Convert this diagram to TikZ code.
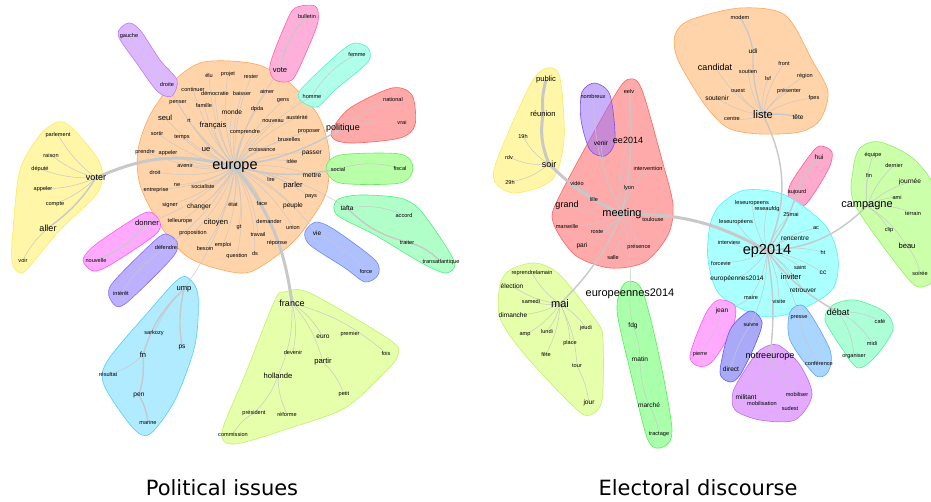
\documentclass[tikz,border=0pt]{standalone}
\usepackage{fontspec}
\setmainfont{Liberation Sans}
\newfontfamily\titlefont{DejaVu Sans}

\pgfdeclarelayer{hulls}
\pgfdeclarelayer{links}
\pgfsetlayers{hulls,links,main}

\definecolor{peachF}{HTML}{FFD4AA}\definecolor{peachL}{HTML}{FFA557}
\definecolor{lilacF}{HTML}{DDB8FF}\definecolor{lilacL}{HTML}{B87AF5}
\definecolor{rosyF}{HTML}{FFB0DA}\definecolor{rosyL}{HTML}{FF5FAF}
\definecolor{mintF}{HTML}{B0FFEA}\definecolor{mintL}{HTML}{55F0CB}
\definecolor{salmonF}{HTML}{FFAAAA}\definecolor{salmonL}{HTML}{FF6161}
\definecolor{limeF}{HTML}{B8FFA8}\definecolor{limeL}{HTML}{5FF05A}
\definecolor{seaF}{HTML}{B0FFC8}\definecolor{seaL}{HTML}{4FEF85}
\definecolor{skyF}{HTML}{AEC0FF}\definecolor{skyL}{HTML}{6A8AF6}
\definecolor{lemonF}{HTML}{FFF6A8}\definecolor{lemonL}{HTML}{FFE860}
\definecolor{magF}{HTML}{FFAAFF}\definecolor{magL}{HTML}{FF55FF}
\definecolor{violF}{HTML}{BCB0FF}\definecolor{violL}{HTML}{8B6CF5}
\definecolor{aquaF}{HTML}{B0EBFF}\definecolor{aquaL}{HTML}{55CCFF}
\definecolor{pistF}{HTML}{E6FFAA}\definecolor{pistL}{HTML}{C2F266}
\definecolor{venirF}{HTML}{9A70F5}\definecolor{venirL}{HTML}{7F50F0}
\definecolor{pinkF}{HTML}{FFAACC}\definecolor{pinkL}{HTML}{FF5A9E}
\definecolor{grassF}{HTML}{CCFFAA}\definecolor{grassL}{HTML}{90F060}
\definecolor{cyanF}{HTML}{AAFFFF}\definecolor{cyanL}{HTML}{55EEFF}
\definecolor{blueF}{HTML}{A9A9F8}\definecolor{blueL}{HTML}{5C5CF0}
\definecolor{orchidF}{HTML}{E3AAFF}\definecolor{orchidL}{HTML}{BF6BF0}
\definecolor{azureF}{HTML}{AAD5FF}\definecolor{azureL}{HTML}{5EA6F5}
\definecolor{jadeF}{HTML}{ADFFD8}\definecolor{jadeL}{HTML}{55F0A0}
\definecolor{greenF}{HTML}{AAFFAA}\definecolor{greenL}{HTML}{55F055}
\definecolor{wire}{HTML}{C8C8C8}

\tikzset{
	w/.style = {font = \fontsize{5.6}{6}\selectfont, inner sep = 0.3pt},
	wn/.style = {font = \fontsize{6.6}{7}\selectfont, inner sep = 0.3pt},
	wm/.style = {font = \fontsize{7.6}{8}\selectfont, inner sep = 0.3pt},
	wl/.style = {font = \fontsize{9}{10}\selectfont, inner sep = 0.3pt},
	wx/.style = {font = \fontsize{11}{12}\selectfont, inner sep = 0.3pt},
	wh/.style = {font = \fontsize{14.5}{16}\selectfont, inner sep = 0.3pt},
	hull/.style 2 args = {fill = #1, draw = #2, line width = 0.6pt},
	link/.style = {draw = wire, line width = 0.5pt},
	bond/.style = {draw = wire, line width = 1.4pt},
	trunk/.style = {draw = wire, line width = 3pt},
	heading/.style = {font = \titlefont\fontsize{21}{24}\selectfont}
}

\begin{document}
\begin{tikzpicture}[x = 1pt, y = -1pt]
	\useasboundingbox (0, 0) rectangle (931, 501);

	\foreach \n/\x/\y/\lbl in {elu/209/75/élu, projet/228/74/projet, rester/251/77/rester, continuer/193/89/continuer, democratie/215/93/démocratie, baisser/242/93/baisser, aimer/267/91/aimer, penser/178/103/penser, famille/204/105/famille, gens/283/101/gens, rt/189/121/rt, dpda/257/109/dpda, nouveau/273/121/nouveau, austerite/297/117/austérité, sortir/157/133/sortir, temps/182/137/temps, comprendre/245/132/comprendre, proposer/309/132/proposer, bruxelles/289/139/bruxelles, croissance/262/149/croissance, prendre/145/152/prendre, appeler/168/153/appeler, idee/292/161/idée, avenir/185/165/avenir, droit/155/172/droit, lire/271/179/lire, ne/177/185/ne, socialiste/203/186/socialiste, entreprise/156/190/entreprise, pays/311/197/pays, signer/170/205/signer, etat/233/204/état, face/262/203/face, telleurope/180/221/telleurope, demander/269/221/demander, union/293/227/union, gt/239/227/gt, proposition/193/233/proposition, travail/258/234/travail, besoin/205/248/besoin, emploi/223/245/emploi, reponse/277/243/réponse, question/237/256/question, ds/255/253/ds, gauche/129/36/gauche, droite/167/84/droite, bulletin/307/16/bulletin, femme/357/54/femme, homme/312/96/homme, national/393/99/national, vrai/402/122/vrai, social/338/169/social, fiscal/400/168/fiscal, accord/404/215/accord, traiter/407/242/traiter, transatlantique/441/262/transatlantique, force/366/271/force, parlement/58/135/parlement, raison/51/155/raison, depute/40/169/député, appelerb/43/189/appeler, compte/55/204/compte, voir/23/260/voir, nouvelle/96/260/nouvelle, defendre/166/247/défendre, interet/121/293/intérêt, sarkozy/154/333/sarkozy, resultat/108/374/résultat, marine/148/422/marine, devenir/293/352/devenir, premier/350/334/premier, fois/386/353/fois, petit/344/394/petit, president/254/413/président, reforme/287/414/réforme, commission/233/434/commission}
		\node (\n) at (\x, \y) [w] {\lbl};
	\foreach \n/\x/\y/\lbl in {monde/232/112/monde, passer/312/153/passer, mettre/312/175/mettre, changer/199/207/changer, peuple/293/206/peuple, tafta/347/208/tafta, vie/317/233/vie, ps/182/347/ps, pen/139/395/pen, euro/323/337/euro}
		\node (\n) at (\x, \y) [wn] {\lbl};
	\foreach \n/\x/\y/\lbl in {seul/165/118/seul, francais/213/126/français, ue/206/149/ue, parler/293/186/parler, citoyen/216/223/citoyen, vote/280/70/vote, donner/147/223/donner, ump/184/289/ump, fn/143/355/fn, partir/323/362/partir, hollande/278/376/hollande}
		\node (\n) at (\x, \y) [wm] {\lbl};
	\foreach \n/\x/\y/\lbl in {politique/343/128/politique, voter/96/178/voter, aller/48/228/aller, france/292/303/france}
		\node (\n) at (\x, \y) [wl] {\lbl};
	\node (europe) at (235, 167) [wh] {europe};

	\foreach \n/\x/\y/\lbl in {eelv/629/91/eelv, intervention/648/168/intervention, lyon/629/188/lyon, video/577/183/vidéo, lille/594/199/lille, toulouse/653/219/toulouse, marseille/567/226/marseille, roste/597/232/roste, presence/639/247/présence, salle/613/257/salle, nombreux/593/96/nombreux, 19h/523/136/19h, rdv/509/157/rdv, 29h/510/182/29h, reprendrelamain/532/273/reprendrelamain, samedi/531/301/samedi, amp/525/335/amp, lundi/547/331/lundi, jeudi/586/328/jeudi, place/570/343/place, fete/546/354/fête, tour/577/366/tour, tractage/659/434/tractage, modem/740/17/modem, soutien/748/71/soutien, front/784/63/front, lsf/768/78/lsf, region/805/76/région, ouest/738/91/ouest, presenter/789/91/présenter, fpes/814/98/fpes, centre/732/119/centre, aujourd/797/192/aujourd, equipe/873/155/équipe, dernier/894/165/dernier, fin/869/175/fin, ami/897/197/ami, terrain/913/213/terrain, clip/889/230/clip, soiree/920/273/soirée, leseuropeens/752/203/leseuropeens, reseaufdg/767/209/reseaufdg, 25mai/791/214/25mai, leseuropeensb/736/222/leseuropéens, ac/816/228/ac, interview/729/242/interview, ht/823/252/ht, forcevie/721/263/forcevie, saint/800/267/saint, maire/751/297/maire, visite/779/301/visite, pierre/700/354/pierre, suivre/751/324/suivre, mobilisation/762/403/mobilisation, sudest/790/408/sudest, mobiliser/797/394/mobiliser, presse/799/318/presse, conference/819/363/conférence, cafe/880/321/café, midi/872/343/midi, organiser/854/356/organiser}
		\node (\n) at (\x, \y) [w] {\lbl};
	\foreach \n/\x/\y/\lbl in {pari/582/246/pari, venir/601/143/venir, election/512/286/élection, dimanche/513/315/dimanche, jour/589/403/jour, fdg/633/326/fdg, matin/640/359/matin, marche/649/405/marché, udi/753/51/udi, soutenir/717/98/soutenir, tete/798/117/tête, hui/819/157/hui, journee/910/182/journée, rencentre/795/238/rencentre, cc/823/273/cc, europeennesb/737/279/européennes2014, retrouver/803/290/retrouver, jean/722/311/jean, direct/731/369/direct, militant/746/397/militant}
		\node (\n) at (\x, \y) [wn] {\lbl};
	\foreach \n/\x/\y/\lbl in {public/546/80/public, reunion/543/114/réunion, beau/907/246/beau, inviter/791/277/inviter}
		\node (\n) at (\x, \y) [wm] {\lbl};
	\foreach \n/\x/\y/\lbl in {ee2014/628/140/ee2014, grand/567/205/grand, soir/549/164/soir, candidat/715/67/candidat, notreeurope/770/357/notreeurope, debat/838/312/débat}
		\node (\n) at (\x, \y) [wl] {\lbl};
	\foreach \n/\x/\y/\lbl in {meeting/622/214/meeting, mai/560/304/mai, europeennes/630/294/europeennes2014, liste/763/115/liste, campagne/867/206/campagne}
		\node (\n) at (\x, \y) [wx] {\lbl};
	\node (ep2014) at (767, 251) [wh] {ep2014};

	\node (political) at (222, 488) [heading] {Political issues};
	\node (electoral) at (698, 488) [heading] {Electoral discourse};

	\begin{pgfonlayer}{hulls}
		\draw [hull = {peachF}{peachL}] plot [smooth cycle] coordinates {(200, 63) (230, 61) (262, 66) (292, 85) (318, 115) (329, 150) (327, 190) (312, 218) (290, 245) (250, 272) (215, 268) (185, 255) (160, 225) (140, 185) (138, 150) (150, 115) (175, 80)};
		\draw [hull = {lilacF}{lilacL}] plot [smooth cycle] coordinates {(118, 35) (128, 23) (140, 30) (160, 60) (177, 80) (172, 96) (158, 92) (138, 65)};
		\draw [hull = {rosyF}{rosyL}] plot [smooth cycle] coordinates {(295, 8) (315, 6) (318, 22) (305, 55) (292, 80) (275, 80) (270, 65) (285, 25)};
		\draw [hull = {mintF}{mintL}] plot [smooth cycle] coordinates {(355, 43) (368, 48) (368, 62) (335, 90) (317, 107) (300, 100) (302, 88) (340, 52)};
		\draw [hull = {salmonF}{salmonL}] plot [smooth cycle] coordinates {(332, 130) (350, 108) (392, 88) (412, 95) (415, 125) (400, 138) (355, 143) (335, 140)};
		\draw [hull = {limeF}{limeL}] plot [smooth cycle] coordinates {(326, 168) (340, 155) (400, 154) (413, 168) (400, 183) (340, 183)};
		\draw [hull = {seaF}{seaL}] plot [smooth cycle] coordinates {(337, 200) (360, 195) (400, 198) (420, 210) (445, 245) (455, 265) (445, 273) (420, 262) (375, 235) (337, 215)};
		\draw [hull = {skyF}{skyL}] plot [smooth cycle] coordinates {(305, 232) (316, 222) (335, 230) (375, 260) (378, 275) (365, 282) (345, 268) (310, 245)};
		\draw [hull = {lemonF}{lemonL}] plot [smooth cycle] coordinates {(58, 122) (72, 128) (100, 163) (98, 192) (60, 230) (28, 268) (20, 273) (12, 262) (13, 230) (20, 170) (40, 135)};
		\draw [hull = {magF}{magL}] plot [smooth cycle] coordinates {(150, 212) (160, 222) (155, 235) (110, 265) (93, 271) (83, 260) (95, 245) (135, 218)};
		\draw [hull = {violF}{violL}] plot [smooth cycle] coordinates {(165, 234) (177, 242) (172, 258) (125, 304) (112, 302) (111, 285) (150, 245)};
		\draw [hull = {aquaF}{aquaL}] plot [smooth cycle] coordinates {(187, 277) (198, 295) (195, 345) (175, 400) (150, 434) (133, 428) (104, 385) (108, 360) (150, 310) (175, 282)};
		\draw [hull = {pistF}{pistL}] plot [smooth cycle] coordinates {(285, 292) (310, 293) (390, 340) (398, 355) (385, 372) (345, 408) (290, 428) (235, 444) (222, 432) (245, 375) (275, 300)};

		\draw [hull = {lemonF}{lemonL}] plot [smooth cycle] coordinates {(547, 68) (560, 78) (564, 140) (552, 180) (515, 193) (495, 182) (497, 160) (530, 85)};
		\draw [hull = {salmonF}{salmonL}] plot [smooth cycle] coordinates {(630, 79) (642, 90) (662, 160) (673, 205) (668, 235) (645, 262) (610, 268) (575, 255) (553, 222) (560, 195) (615, 95)};
		\draw [hull = {venirF}{venirL}, fill opacity = 0.55] plot [smooth cycle] coordinates {(595, 83) (610, 95) (615, 140) (605, 156) (590, 150) (581, 120) (582, 92)};
		\draw [hull = {pistF}{pistL}] plot [smooth cycle] coordinates {(510, 270) (535, 263) (560, 275) (597, 322) (603, 340) (602, 400) (590, 415) (575, 408) (525, 355) (500, 318) (500, 285)};
		\draw [hull = {greenF}{greenL}] plot [smooth cycle] coordinates {(625, 283) (642, 290) (660, 360) (672, 430) (663, 447) (648, 440) (630, 370) (617, 310)};
		\draw [hull = {peachF}{peachL}] plot [smooth cycle] coordinates {(675, 35) (690, 20) (740, 8) (785, 15) (812, 60) (828, 92) (820, 120) (800, 132) (760, 134) (728, 128) (705, 105) (678, 60)};
		\draw [hull = {pinkF}{pinkL}] plot [smooth cycle] coordinates {(820, 146) (832, 152) (828, 170) (805, 205) (790, 200) (790, 185) (810, 155)};
		\draw [hull = {grassF}{grassL}] plot [smooth cycle] coordinates {(860, 148) (880, 142) (915, 160) (940, 200) (940, 270) (922, 287) (905, 275) (855, 205) (853, 170)};
		\draw [hull = {cyanF}{cyanL}] plot [smooth cycle] coordinates {(720, 205) (745, 190) (785, 195) (825, 225) (838, 258) (832, 290) (795, 312) (760, 316) (720, 295) (708, 260) (710, 225)};
		\draw [hull = {magF}{magL}] plot [smooth cycle] coordinates {(718, 300) (735, 306) (732, 330) (712, 362) (698, 366) (690, 355) (705, 315)};
		\draw [hull = {blueF}{blueL}] plot [smooth cycle] coordinates {(750, 311) (762, 322) (755, 345) (740, 375) (730, 382) (720, 372) (730, 330)};
		\draw [hull = {orchidF}{orchidL}] plot [smooth cycle] coordinates {(760, 350) (778, 345) (800, 365) (812, 395) (795, 420) (760, 420) (735, 410) (733, 392) (745, 370)};
		\draw [hull = {azureF}{azureL}] plot [smooth cycle] coordinates {(790, 312) (805, 307) (830, 350) (828, 372) (815, 375) (790, 340)};
		\draw [hull = {jadeF}{jadeL}] plot [smooth cycle] coordinates {(833, 305) (855, 300) (885, 312) (893, 330) (875, 357) (858, 368) (843, 350) (825, 320)};
	\end{pgfonlayer}

	\begin{pgfonlayer}{links}
		\foreach \n in {elu, projet, rester, continuer, democratie, baisser, aimer, penser, famille, gens, seul, rt, monde, dpda, nouveau, austerite, francais, sortir, temps, comprendre, proposer, bruxelles, croissance, ue, passer, prendre, appeler, idee, avenir, droit, mettre, lire, parler, ne, socialiste, entreprise, pays, signer, changer, etat, face, peuple, telleurope, citoyen, demander, union, gt, proposition, travail, besoin, emploi, reponse, question, ds, droite, vote, homme, tafta, vie, donner, defendre, ump}
			\draw [link] (europe.center) to [bend left = 12] (\n.center);
		\draw [bond] (europe.center) to [bend right = 10] (politique.center);
		\draw [bond] (europe.center) to [bend right = 12] (social.center);
		\draw [trunk] (europe.center) to [bend right = 20] (voter.center);
		\draw [trunk] (europe.center) to [bend left = 15] (france.center);
		\foreach \n in {parlement, raison, depute, appelerb, compte}
			\draw [link] (voter.center) to [bend left = 10] (\n.center);
		\draw [bond] (voter.center) to [bend left = 10] (aller.center);
		\draw [link] (aller.center) to [bend right = 10] (voir.center);
		\draw [link] (droite.center) to [bend left = 10] (gauche.center);
		\draw [bond] (vote.center) to [bend left = 15] (bulletin.center);
		\draw [link] (homme.center) to [bend left = 15] (femme.center);
		\draw [link] (politique.center) to [bend left = 10] (national.center);
		\draw [link] (politique.center) to [bend left = 10] (vrai.center);
		\draw [link] (social.center) to [bend left = 15] (fiscal.center);
		\draw [link] (tafta.center) to [bend left = 15] (accord.center);
		\draw [bond] (tafta.center) to [bend right = 15] (traiter.center);
		\draw [bond] (traiter.center) to [bend left = 15] (transatlantique.center);
		\draw [link] (vie.center) to [bend left = 10] (force.center);
		\draw [bond] (donner.center) to [bend left = 15] (nouvelle.center);
		\draw [link] (defendre.center) to [bend right = 10] (interet.center);
		\draw [link] (ump.center) to [bend right = 10] (sarkozy.center);
		\draw [bond] (ump.center) to [bend right = 10] (ps.center);
		\draw [bond] (ump.center) to [bend right = 15] (fn.center);
		\draw [link] (fn.center) to [bend left = 15] (resultat.center);
		\draw [bond] (fn.center) to [bend left = 10] (pen.center);
		\draw [bond] (pen.center) to [bend left = 10] (marine.center);
		\foreach \n in {devenir, euro, fois, hollande}
			\draw [link] (france.center) to [bend left = 12] (\n.center);
		\draw [link] (france.center) to [bend left = 12] (partir.center);
		\draw [link] (partir.center) to [bend left = 12] (petit.center);
		\draw [link] (hollande.center) to [bend left = 12] (president.center);
		\draw [link] (hollande.center) to [bend right = 12] (reforme.center);
		\draw [link] (president.center) to [bend right = 15] (commission.center);

		\foreach \n in {ee2014, intervention, lyon, video, lille, grand, toulouse, marseille, roste, pari, presence, salle, nombreux, venir}
			\draw [link] (meeting.center) to [bend left = 12] (\n.center);
		\draw [bond] (meeting.center) to [bend right = 8] (eelv.center);
		\draw [trunk] (meeting.center) to [bend left = 10] (soir.center);
		\draw [trunk] (soir.center) to [bend left = 15] (reunion.center);
		\draw [trunk] (reunion.center) to [bend left = 10] (public.center);
		\foreach \n in {19h, rdv, 29h}
			\draw [link] (soir.center) to [bend left = 15] (\n.center);
		\draw [trunk] (meeting.center) to [bend left = 15] (ep2014.center);
		\draw [bond] (meeting.center) to [bend left = 10] (mai.center);
		\foreach \n in {reprendrelamain, election, samedi, dimanche, amp, lundi, jeudi, place, fete, tour}
			\draw [link] (mai.center) to [bend left = 12] (\n.center);
		\draw [link] (tour.center) to [bend left = 10] (jour.center);
		\draw [link] (meeting.center) to [bend left = 8] (europeennes.center);
		\draw [link] (europeennes.center) to [bend right = 8] (fdg.center);
		\draw [link] (fdg.center) to [bend left = 10] (matin.center);
		\draw [link] (matin.center) to [bend right = 10] (marche.center);
		\draw [link] (marche.center) to [bend left = 10] (tractage.center);

		\foreach \n in {leseuropeens, reseaufdg, 25mai, leseuropeensb, ac, rencentre, interview, ht, forcevie, saint, cc, europeennesb, inviter, retrouver, maire, visite, suivre, presse}
			\draw [link] (ep2014.center) to [bend left = 12] (\n.center);
		\draw [bond] (ep2014.center) to [bend right = 25] (liste.center);
		\foreach \n in {candidat, soutien, front, lsf, region, ouest, presenter, soutenir, fpes, centre}
			\draw [link] (liste.center) to [bend left = 12] (\n.center);
		\draw [bond] (liste.center) to [bend left = 10] (udi.center);
		\draw [bond] (udi.center) to [bend right = 10] (modem.center);
		\draw [bond] (liste.center) to [bend left = 10] (tete.center);
		\draw [bond] (ep2014.center) to [bend right = 10] (aujourd.center);
		\draw [bond] (aujourd.center) to [bend left = 10] (hui.center);
		\draw [bond] (ep2014.center) to [bend right = 20] (campagne.center);
		\foreach \n in {equipe, dernier, fin, journee, ami, terrain, clip, beau}
			\draw [link] (campagne.center) to [bend left = 12] (\n.center);
		\draw [link] (beau.center) to [bend left = 12] (soiree.center);
		\draw [bond] (ep2014.center) to [bend right = 12] (debat.center);
		\foreach \n in {cafe, midi, organiser}
			\draw [link] (debat.center) to [bend left = 15] (\n.center);
		\draw [bond] (ep2014.center) to [bend left = 8] (notreeurope.center);
		\foreach \n in {militant, mobilisation, sudest, mobiliser}
			\draw [link] (notreeurope.center) to [bend left = 12] (\n.center);
		\draw [link] (presse.center) to [bend right = 12] (conference.center);
		\draw [link] (maire.center) to [bend left = 10] (jean.center);
		\draw [link] (jean.center) to [bend left = 10] (pierre.center);
		\draw [link] (suivre.center) to [bend right = 10] (direct.center);
	\end{pgfonlayer}
\end{tikzpicture}
\end{document}
